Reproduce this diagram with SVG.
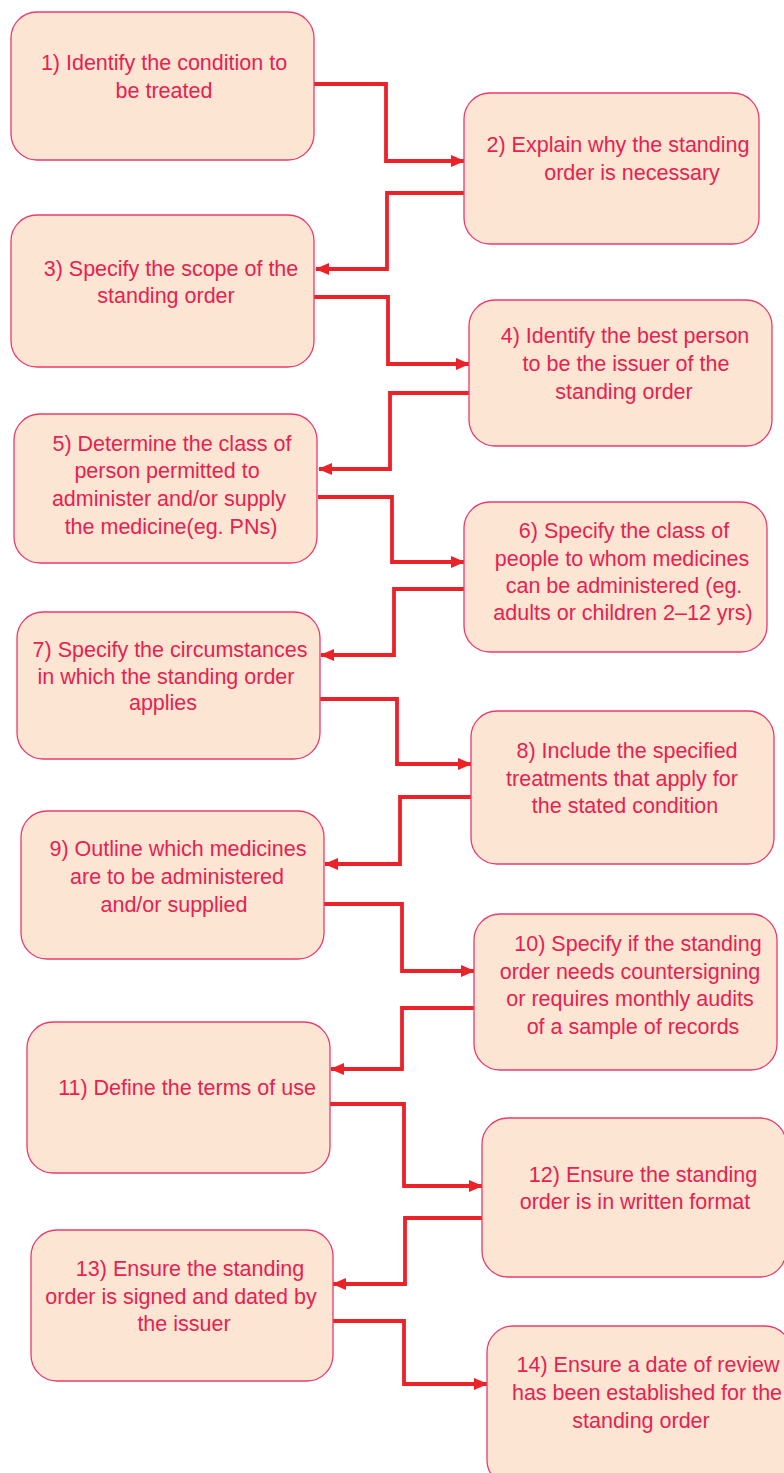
<svg xmlns="http://www.w3.org/2000/svg" width="784" height="1473" viewBox="0 0 784 1473">
<style>
.box{fill:#fde5d3;stroke:#ec3a6c;stroke-width:1.3}
.t{font-family:"Liberation Sans",Arial,Helvetica,sans-serif;font-size:21.5px;fill:#e8214f;text-anchor:middle}
.c{fill:none;stroke:#ec2229;stroke-width:3.8;marker-end:url(#ah)}
</style>
<defs>
<marker id="ah" markerWidth="14" markerHeight="12" refX="13" refY="6" orient="auto" markerUnits="userSpaceOnUse">
<path d="M0,0 L14,6 L0,12 Z" fill="#ec2229"/>
</marker>
</defs>
<rect width="784" height="1473" fill="#fff"/>
<g id="connectors">
<path class="c" d="M314,84 H386 V161 H464"/>
<path class="c" d="M464,193 H387 V269 H316"/>
<path class="c" d="M314,297 H388 V364 H469"/>
<path class="c" d="M469,393 H390 V469 H319"/>
<path class="c" d="M318,497 H392 V562 H464"/>
<path class="c" d="M464,589 H394 V655 H321"/>
<path class="c" d="M320,699 H397 V764 H471"/>
<path class="c" d="M471,797 H400 V864 H325"/>
<path class="c" d="M324,904 H402 V971 H474"/>
<path class="c" d="M474,1008 H402 V1069 H331"/>
<path class="c" d="M330,1104 H404 V1186 H482"/>
<path class="c" d="M482,1218 H405 V1284 H333"/>
<path class="c" d="M333,1321 H404 V1384 H487"/>
</g>
<g id="n1"><rect class="box" x="11" y="12" width="303" height="148" rx="26"/>
<text class="t" x="164" y="70">1)  Identify the condition to</text><text class="t" x="164" y="98">be treated</text></g>
<g id="n2"><rect class="box" x="464" y="93" width="295" height="151" rx="26"/>
<text class="t" x="618" y="152">2) Explain why the standing</text><text class="t" x="632" y="180">order is necessary</text></g>
<g id="n3"><rect class="box" x="11" y="215" width="303" height="152" rx="26"/>
<text class="t" x="171" y="276">3) Specify the scope of the</text><text class="t" x="166" y="303">standing order</text></g>
<g id="n4"><rect class="box" x="469" y="300" width="303" height="146" rx="26"/>
<text class="t" x="625" y="343">4) Identify the best person</text><text class="t" x="626" y="371">to be the issuer of the</text><text class="t" x="624" y="399">standing order</text></g>
<g id="n5"><rect class="box" x="14" y="414" width="303" height="149" rx="26"/>
<text class="t" x="172" y="451">5) Determine the class of</text><text class="t" x="167" y="478">person permitted to</text><text class="t" x="169" y="506">administer and/or supply</text><text class="t" x="171" y="534">the medicine(eg. PNs)</text></g>
<g id="n6"><rect class="box" x="464" y="502" width="303" height="150" rx="26"/>
<text class="t" x="624" y="538">6) Specify the class of</text><text class="t" x="622" y="566">people to whom medicines</text><text class="t" x="624" y="593">can be administered (eg.</text><text class="t" x="623" y="620">adults or children 2–12 yrs)</text></g>
<g id="n7"><rect class="box" x="17" y="612" width="303" height="147" rx="26"/>
<text class="t" x="170" y="657">7) Specify the circumstances</text><text class="t" x="166" y="684">in which the standing order</text><text class="t" x="163" y="710">applies</text></g>
<g id="n8"><rect class="box" x="471" y="711" width="303" height="153" rx="26"/>
<text class="t" x="627" y="758">8) Include the specified</text><text class="t" x="622" y="786">treatments that apply for</text><text class="t" x="625" y="813">the stated condition</text></g>
<g id="n9"><rect class="box" x="21" y="811" width="303" height="148" rx="26"/>
<text class="t" x="178" y="856">9) Outline which medicines</text><text class="t" x="177" y="884">are to be administered</text><text class="t" x="174" y="912">and/or supplied</text></g>
<g id="n10"><rect class="box" x="474" y="914" width="303" height="156" rx="26"/>
<text class="t" x="638" y="951">10) Specify if the standing</text><text class="t" x="630" y="979">order needs countersigning</text><text class="t" x="630" y="1006">or requires monthly audits</text><text class="t" x="633" y="1034">of a sample of records</text></g>
<g id="n11"><rect class="box" x="27" y="1022" width="303" height="151" rx="26"/>
<text class="t" x="187" y="1095">11) Define the terms of use</text></g>
<g id="n12"><rect class="box" x="482" y="1118" width="304" height="159" rx="26"/>
<text class="t" x="643" y="1182">12) Ensure the standing</text><text class="t" x="635" y="1209">order is in written format</text></g>
<g id="n13"><rect class="box" x="31" y="1230" width="302" height="151" rx="26"/>
<text class="t" x="190" y="1276">13) Ensure the standing</text><text class="t" x="181" y="1304">order is signed and dated by</text><text class="t" x="184" y="1331">the issuer</text></g>
<g id="n14"><rect class="box" x="487" y="1326" width="304" height="160" rx="26"/>
<text class="t" x="648" y="1372">14) Ensure a date of review</text><text class="t" x="647" y="1400">has been established for the</text><text class="t" x="641" y="1428">standing order</text></g>
</svg>
